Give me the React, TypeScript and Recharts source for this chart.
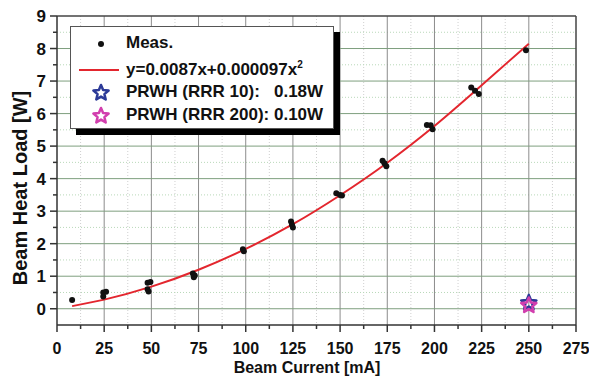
import React from "react"
import {
  ComposedChart,
  XAxis,
  YAxis,
  CartesianGrid,
  Line,
  Scatter,
  Label,
} from "recharts"

// measured heat load points (beam current mA, load W)
const measured = [
  { x: 8, y: 0.27 },
  { x: 24.5, y: 0.5 },
  { x: 26, y: 0.52 },
  { x: 24.5, y: 0.38 },
  { x: 48, y: 0.8 },
  { x: 49.5, y: 0.82 },
  { x: 48, y: 0.6 },
  { x: 48.5, y: 0.53 },
  { x: 72, y: 1.08 },
  { x: 73, y: 1.02 },
  { x: 72.5, y: 0.97 },
  { x: 98.5, y: 1.83 },
  { x: 99, y: 1.77 },
  { x: 124, y: 2.68 },
  { x: 124.5, y: 2.58 },
  { x: 125, y: 2.5 },
  { x: 148, y: 3.55 },
  { x: 150, y: 3.5 },
  { x: 151, y: 3.48 },
  { x: 172.5, y: 4.55 },
  { x: 173.5, y: 4.47 },
  { x: 174.5, y: 4.38 },
  { x: 196, y: 5.65 },
  { x: 198, y: 5.64 },
  { x: 199, y: 5.52 },
  { x: 219.5, y: 6.8 },
  { x: 221.5, y: 6.7 },
  { x: 223.5, y: 6.6 },
  { x: 248.5, y: 7.95 },
]

// fitted curve
const fitCurve = [
  { x: 8, y: 0.08 },
  { x: 25, y: 0.28 },
  { x: 50, y: 0.68 },
  { x: 75, y: 1.2 },
  { x: 100, y: 1.84 },
  { x: 125, y: 2.6 },
  { x: 150, y: 3.49 },
  { x: 175, y: 4.49 },
  { x: 200, y: 5.62 },
  { x: 225, y: 6.87 },
  { x: 250, y: 8.15 },
]

const prwh10 = [{ x: 250, y: 0.18 }]
const prwh200 = [{ x: 250, y: 0.1 }]

const xTicks = [0, 12.5, 25, 37.5, 50, 62.5, 75, 87.5, 100, 112.5, 125, 137.5, 150, 162.5, 175, 187.5, 200, 212.5, 225, 237.5, 250, 262.5, 275]
const yTicks = [0, 0.5, 1, 1.5, 2, 2.5, 3, 3.5, 4, 4.5, 5, 5.5, 6, 6.5, 7, 7.5, 8, 8.5, 9]
const xMajorGrid = [25, 50, 75, 100, 125, 150, 175, 200, 225, 250]
const xMinorGrid = [12.5, 37.5, 62.5, 87.5, 112.5, 137.5, 162.5, 187.5, 212.5, 237.5, 262.5]
const yMajorGrid = [0, 1, 2, 3, 4, 5, 6, 7, 8]
const yMinorGrid = [0.5, 1.5, 2.5, 3.5, 4.5, 5.5, 6.5, 7.5, 8.5]

const FONT = "'Liberation Sans', Arial, sans-serif"
const INK = "#111"
const BLUE = "#2c3a98"
const PINK = "#d23fae"

function starPoints(cx: number, cy: number, r: number) {
  const pts: string[] = []
  for (let i = 0; i < 10; i++) {
    const rad = i % 2 === 0 ? r : r * 0.45
    const a = -Math.PI / 2 + (i * Math.PI) / 5
    pts.push(`${cx + rad * Math.cos(a)},${cy + rad * Math.sin(a)}`)
  }
  return pts.join(" ")
}

const starShape = (color: string) => (p: any) => (
  <polygon points={starPoints(p.cx, p.cy, 8)} fill="none" stroke={color} strokeWidth={2.5} strokeLinejoin="round" />
)

function XTick({ x, y, payload }: any) {
  const major = payload.value % 25 === 0
  return (
    <g>
      <line x1={x} x2={x} y1={y} y2={y + (major ? 7 : 4)} stroke="#333" strokeWidth={1.5} />
      {major && (
        <text x={x} y={y + 29} textAnchor="middle" fontSize={16} fontWeight="bold" fontFamily={FONT} fill={INK}>
          {payload.value}
        </text>
      )}
    </g>
  )
}

function YTick({ x, y, payload }: any) {
  const major = payload.value % 1 === 0
  return (
    <g>
      <line x1={x - (major ? 7 : 4)} x2={x} y1={y} y2={y} stroke="#333" strokeWidth={1.5} />
      {major && (
        <text x={x - 11} y={y + 6} textAnchor="end" fontSize={17} fontWeight="bold" fontFamily={FONT} fill={INK}>
          {payload.value}
        </text>
      )}
    </g>
  )
}

function LegendBox() {
  const row = { position: "absolute" as const, left: 55, whiteSpace: "nowrap" as const }
  return (
    <div
      style={{
        position: "absolute",
        left: 62,
        top: 18,
        width: 262,
        height: 101,
        background: "#fff",
        border: "1px solid #555",
        boxShadow: "6px 6px 0 #000",
        fontFamily: FONT,
        fontWeight: "bold",
        fontSize: 17,
        color: INK,
      }}
    >
      <svg width={60} height={101} style={{ position: "absolute", left: 0, top: 0 }}>
        <circle cx={30} cy={17} r={3} fill={INK} />
        <line x1={8} x2={48} y1={43} y2={43} stroke="#e3262e" strokeWidth={2} />
        <polygon points={starPoints(30, 66, 8)} fill="none" stroke={BLUE} strokeWidth={2.5} strokeLinejoin="round" />
        <polygon points={starPoints(30, 89, 8)} fill="none" stroke={PINK} strokeWidth={2.5} strokeLinejoin="round" />
      </svg>
      <div style={{ ...row, top: 6 }}>Meas.</div>
      <div style={{ ...row, top: 32 }}>
        y=0.0087x+0.000097x<sup style={{ fontSize: 10 }}>2</sup>
      </div>
      <div style={{ ...row, top: 55 }}>PRWH (RRR 10):&nbsp;&nbsp; 0.18W</div>
      <div style={{ ...row, top: 78 }}>PRWH (RRR 200): 0.10W</div>
    </div>
  )
}

export default function App() {
  return (
    <div style={{ position: "relative", width: 581, height: 372, fontFamily: FONT }}>
      <ComposedChart width={581} height={372} margin={{ top: 8, right: 13, bottom: 0, left: 0 }}>
        <CartesianGrid horizontal={false} verticalValues={xMinorGrid} stroke="#cfcfcf" strokeDasharray="1 2" />
        <CartesianGrid vertical={false} horizontalValues={yMinorGrid} stroke="#b9d8b9" strokeDasharray="1 2" />
        <CartesianGrid horizontal={false} verticalValues={xMajorGrid} stroke="#8c8c8c" />
        <CartesianGrid vertical={false} horizontalValues={yMajorGrid} stroke="#7e9f7e" />
        <CartesianGrid vertical={false} horizontalValues={[9]} stroke="#444" strokeWidth={1.5} />
        <CartesianGrid horizontal={false} verticalValues={[275]} stroke="#444" strokeWidth={1.5} />
        <XAxis
          type="number"
          dataKey="x"
          domain={[0, 275]}
          ticks={xTicks}
          interval={0}
          height={55}
          tickSize={0}
          tickMargin={0}
          tickLine={false}
          tick={<XTick />}
          axisLine={{ stroke: "#333", strokeWidth: 1.5 }}
          allowDataOverflow
        >
          <Label
            content={() => (
              <text x={299} y={365} textAnchor="middle" fontSize={16} fontWeight="bold" fontFamily={FONT} fill={INK}>
                Beam Current [mA]
              </text>
            )}
          />
        </XAxis>
        <YAxis
          type="number"
          dataKey="y"
          domain={[-0.5, 9]}
          ticks={yTicks}
          interval={0}
          width={49}
          tickSize={0}
          tickMargin={0}
          tickLine={false}
          tick={<YTick />}
          axisLine={{ stroke: "#333", strokeWidth: 1.5 }}
          allowDataOverflow
        >
          <Label
            content={() => (
              <text
                x={12}
                y={180}
                transform="rotate(-90, 12, 180)"
                textAnchor="middle"
                dominantBaseline="central"
                fontSize={20}
                fontWeight="bold"
                fontFamily={FONT}
                fill={INK}
              >
                Beam Heat Load [W]
              </text>
            )}
          />
        </YAxis>
        <Line data={fitCurve} dataKey="y" type="monotone" stroke="#e3262e" strokeWidth={2} dot={false} isAnimationActive={false} />
        <Scatter
          data={measured}
          dataKey="y"
          isAnimationActive={false}
          shape={(p: any) => <circle cx={p.cx} cy={p.cy} r={3} fill={INK} />}
        />
        <Scatter data={prwh10} dataKey="y" isAnimationActive={false} shape={starShape(BLUE)} />
        <Scatter data={prwh200} dataKey="y" isAnimationActive={false} shape={starShape(PINK)} />
      </ComposedChart>
      <LegendBox />
    </div>
  )
}
